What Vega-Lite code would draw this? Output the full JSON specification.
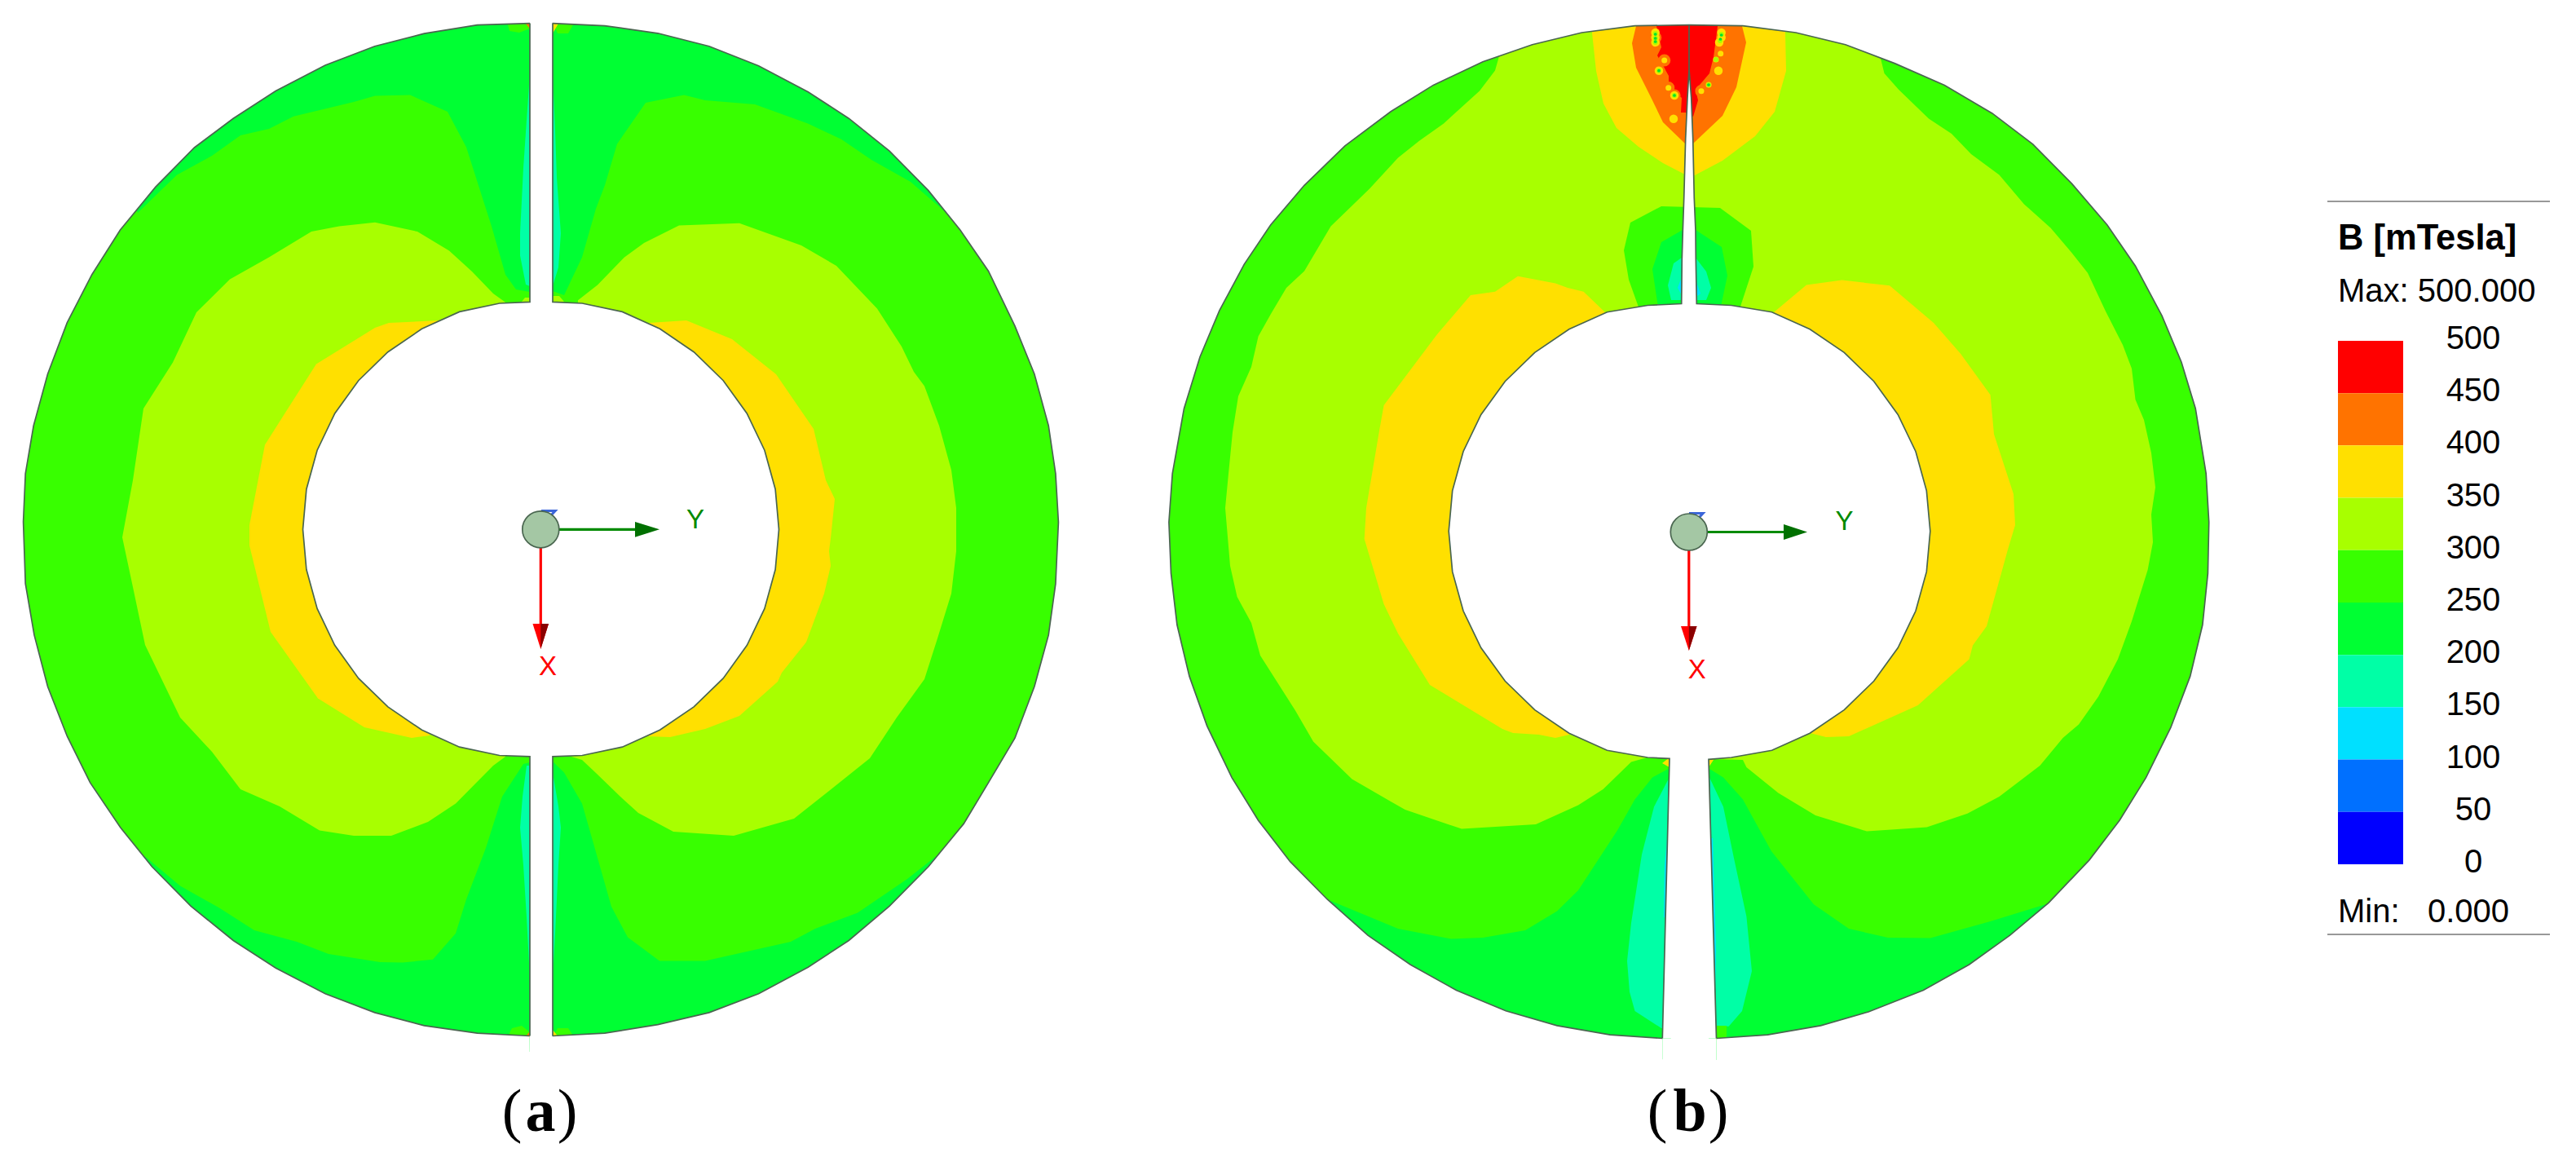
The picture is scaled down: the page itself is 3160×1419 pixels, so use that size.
{"$schema":"https://vega.github.io/schema/vega-lite/v6.json","width":3160,"height":1419,"padding":0,"autosize":{"type":"none"},"background":"white","config":{"view":{"stroke":null}},
"datasets":{
"arcs":[
{"i":"L1","x":650,"y":28.6},{"i":"L1","x":585.5,"y":30.7},{"i":"L1","x":520.4,"y":41.2},{"i":"L1","x":459.7,"y":56.8},{"i":"L1","x":399,"y":80},{"i":"L1","x":338.3,"y":111.5},{"i":"L1","x":286.2,"y":145.2},{"i":"L1","x":238.5,"y":181},{"i":"L1","x":190.8,"y":229.4},{"i":"L1","x":147.5,"y":282},{"i":"L1","x":112.8,"y":336.7},{"i":"L1","x":82.4,"y":395.7},{"i":"L1","x":58.5,"y":458.8},{"i":"L1","x":41.2,"y":522},{"i":"L1","x":31.2,"y":580.8},{"i":"L1","x":28.6,"y":640},{"i":"L1","x":31.2,"y":715.8},{"i":"L1","x":42,"y":778.9},{"i":"L1","x":58.5,"y":842},{"i":"L1","x":82.4,"y":903},{"i":"L1","x":110.6,"y":959.9},{"i":"L1","x":147.5,"y":1014.6},{"i":"L1","x":186.5,"y":1063},{"i":"L1","x":234.2,"y":1111.4},{"i":"L1","x":286.2,"y":1153.5},{"i":"L1","x":338.3,"y":1187.2},{"i":"L1","x":399,"y":1218.7},{"i":"L1","x":459.7,"y":1241.9},{"i":"L1","x":520.4,"y":1257.9},{"i":"L1","x":585.5,"y":1267.1},{"i":"L1","x":649.7,"y":1270.5},{"i":"L1","c":1,"x":650,"y":1330},{"i":"L1","c":1,"x":0,"y":1330},{"i":"L1","c":1,"x":0,"y":0},{"i":"L1","c":1,"x":650,"y":0},
{"i":"L2","x":677.7,"y":28.6},{"i":"L2","x":741.9,"y":31.6},{"i":"L2","x":807,"y":40.8},{"i":"L2","x":869.9,"y":56.8},{"i":"L2","x":930.6,"y":80.8},{"i":"L2","x":991.3,"y":112.8},{"i":"L2","x":1041.2,"y":145.2},{"i":"L2","x":1091,"y":185.2},{"i":"L2","x":1138.8,"y":233.6},{"i":"L2","x":1177.8,"y":282},{"i":"L2","x":1212.5,"y":332.5},{"i":"L2","x":1245,"y":399.9},{"i":"L2","x":1268.9,"y":458.8},{"i":"L2","x":1286.2,"y":522},{"i":"L2","x":1294.9,"y":580.8},{"i":"L2","x":1298.4,"y":640.6},{"i":"L2","x":1294.9,"y":715.8},{"i":"L2","x":1286.2,"y":778.9},{"i":"L2","x":1268.9,"y":842},{"i":"L2","x":1245,"y":905.2},{"i":"L2","x":1212.5,"y":959.9},{"i":"L2","x":1182.1,"y":1010.4},{"i":"L2","x":1138.8,"y":1063},{"i":"L2","x":1091,"y":1111.4},{"i":"L2","x":1041.2,"y":1153.5},{"i":"L2","x":991.3,"y":1186.3},{"i":"L2","x":930.6,"y":1218.7},{"i":"L2","x":869.9,"y":1241.9},{"i":"L2","x":807,"y":1256.6},{"i":"L2","x":741.9,"y":1267.1},{"i":"L2","x":677.7,"y":1270.5},{"i":"L2","c":1,"x":678,"y":1330},{"i":"L2","c":1,"x":1366,"y":1330},{"i":"L2","c":1,"x":1366,"y":0},{"i":"L2","c":1,"x":678,"y":0},
{"i":"R1","x":2072,"y":30.7},{"i":"R1","x":2005.5,"y":31.6},{"i":"R1","x":1940.4,"y":40},{"i":"R1","x":1879.7,"y":54.7},{"i":"R1","x":1819,"y":75.8},{"i":"R1","x":1758.3,"y":104.4},{"i":"R1","x":1706.2,"y":136.8},{"i":"R1","x":1649.9,"y":178.9},{"i":"R1","x":1600,"y":227.3},{"i":"R1","x":1558.8,"y":275.7},{"i":"R1","x":1526.3,"y":324.1},{"i":"R1","x":1495.9,"y":380.9},{"i":"R1","x":1472,"y":437.7},{"i":"R1","x":1452.5,"y":500.9},{"i":"R1","x":1438.2,"y":580.8},{"i":"R1","x":1433.9,"y":640.6},{"i":"R1","x":1436.5,"y":703.1},{"i":"R1","x":1443.9,"y":766.3},{"i":"R1","x":1459,"y":829.4},{"i":"R1","x":1480.7,"y":890.4},{"i":"R1","x":1511.1,"y":953.6},{"i":"R1","x":1543.6,"y":1006.2},{"i":"R1","x":1582.6,"y":1056.7},{"i":"R1","x":1628.2,"y":1103},{"i":"R1","x":1678,"y":1147.2},{"i":"R1","x":1730,"y":1183},{"i":"R1","x":1786.5,"y":1214.5},{"i":"R1","x":1847.2,"y":1239.8},{"i":"R1","x":1910,"y":1257.9},{"i":"R1","x":1975.1,"y":1269.2},{"i":"R1","x":2039.3,"y":1273.5},{"i":"R1","c":1,"x":2039.3,"y":1330},{"i":"R1","c":1,"x":1367,"y":1330},{"i":"R1","c":1,"x":1367,"y":0},{"i":"R1","c":1,"x":2072,"y":0},
{"i":"R2","x":2072,"y":30.7},{"i":"R2","x":2138,"y":31.6},{"i":"R2","x":2203,"y":40},{"i":"R2","x":2263.8,"y":54.7},{"i":"R2","x":2324.6,"y":77.9},{"i":"R2","x":2385.3,"y":104.4},{"i":"R2","x":2443.8,"y":138.9},{"i":"R2","x":2493.7,"y":176.8},{"i":"R2","x":2541.4,"y":225.2},{"i":"R2","x":2584.8,"y":275.7},{"i":"R2","x":2619.5,"y":326.2},{"i":"R2","x":2652,"y":387.2},{"i":"R2","x":2675.9,"y":444},{"i":"R2","x":2693.2,"y":500.9},{"i":"R2","x":2706.2,"y":580.8},{"i":"R2","x":2709.7,"y":640.6},{"i":"R2","x":2708.4,"y":703.1},{"i":"R2","x":2701.9,"y":766.3},{"i":"R2","x":2686.7,"y":829.4},{"i":"R2","x":2662.8,"y":892.5},{"i":"R2","x":2632.5,"y":953.6},{"i":"R2","x":2600,"y":1006.2},{"i":"R2","x":2563.1,"y":1054.6},{"i":"R2","x":2513.2,"y":1107.2},{"i":"R2","x":2465.5,"y":1147.2},{"i":"R2","x":2415.6,"y":1183},{"i":"R2","x":2359.3,"y":1214.5},{"i":"R2","x":2292,"y":1241},{"i":"R2","x":2233.5,"y":1257.9},{"i":"R2","x":2168.4,"y":1269.2},{"i":"R2","x":2105.5,"y":1273.5},{"i":"R2","c":1,"x":2105.5,"y":1330},{"i":"R2","c":1,"x":2790,"y":1330},{"i":"R2","c":1,"x":2790,"y":0},{"i":"R2","c":1,"x":2072,"y":0}
],
"regions":[
{"i":"a1","b":"300","x":620,"y":928},{"i":"a1","b":"300","x":605,"y":939},{"i":"a1","b":"300","x":559,"y":985.5},{"i":"a1","b":"300","x":525,"y":1008},{"i":"a1","b":"300","x":480,"y":1025},{"i":"a1","b":"300","x":434,"y":1025},{"i":"a1","b":"300","x":392,"y":1018.5},{"i":"a1","b":"300","x":343,"y":989},{"i":"a1","b":"300","x":295,"y":968},{"i":"a1","b":"300","x":260,"y":922},{"i":"a1","b":"300","x":221,"y":880},{"i":"a1","b":"300","x":178,"y":791},{"i":"a1","b":"300","x":163,"y":720},{"i":"a1","b":"300","x":150,"y":659},{"i":"a1","b":"300","x":163,"y":589},{"i":"a1","b":"300","x":176,"y":501},{"i":"a1","b":"300","x":212,"y":444.5},{"i":"a1","b":"300","x":241,"y":383},{"i":"a1","b":"300","x":282,"y":342.6},{"i":"a1","b":"300","x":330,"y":315.4},{"i":"a1","b":"300","x":382,"y":284},{"i":"a1","b":"300","x":416,"y":277.6},{"i":"a1","b":"300","x":460,"y":272.7},{"i":"a1","b":"300","x":512,"y":284},{"i":"a1","b":"300","x":551,"y":307.6},{"i":"a1","b":"300","x":579,"y":333},{"i":"a1","b":"300","x":605,"y":360},{"i":"a1","b":"300","x":620,"y":370.7},
{"i":"a2","b":"300","x":709,"y":368.3},{"i":"a2","b":"300","x":733,"y":349.4},{"i":"a2","b":"300","x":766,"y":315.4},{"i":"a2","b":"300","x":790,"y":298},{"i":"a2","b":"300","x":833,"y":276.6},{"i":"a2","b":"300","x":907,"y":273.7},{"i":"a2","b":"300","x":983,"y":300.9},{"i":"a2","b":"300","x":1026,"y":326},{"i":"a2","b":"300","x":1076,"y":378.5},{"i":"a2","b":"300","x":1106,"y":425},{"i":"a2","b":"300","x":1121,"y":456},{"i":"a2","b":"300","x":1134,"y":473.6},{"i":"a2","b":"300","x":1152,"y":522},{"i":"a2","b":"300","x":1167,"y":576.5},{"i":"a2","b":"300","x":1173,"y":623},{"i":"a2","b":"300","x":1173,"y":676},{"i":"a2","b":"300","x":1167,"y":728},{"i":"a2","b":"300","x":1150,"y":783},{"i":"a2","b":"300","x":1134,"y":833},{"i":"a2","b":"300","x":1100,"y":880},{"i":"a2","b":"300","x":1067,"y":930},{"i":"a2","b":"300","x":1017,"y":970},{"i":"a2","b":"300","x":974,"y":1004},{"i":"a2","b":"300","x":900,"y":1025},{"i":"a2","b":"300","x":826,"y":1020},{"i":"a2","b":"300","x":783,"y":997},{"i":"a2","b":"300","x":761,"y":977},{"i":"a2","b":"300","x":731,"y":948},{"i":"a2","b":"300","x":714,"y":932},{"i":"a2","b":"300","x":701,"y":928},
{"i":"a3","b":"350","x":538,"y":393},{"i":"a3","b":"350","x":477,"y":396},{"i":"a3","b":"350","x":460,"y":402},{"i":"a3","b":"350","x":388,"y":446.4},{"i":"a3","b":"350","x":325,"y":545.4},{"i":"a3","b":"350","x":306,"y":644},{"i":"a3","b":"350","x":306,"y":669},{"i":"a3","b":"350","x":332,"y":775},{"i":"a3","b":"350","x":390,"y":856.4},{"i":"a3","b":"350","x":447,"y":892},{"i":"a3","b":"350","x":505,"y":905},{"i":"a3","b":"350","x":527,"y":902},
{"i":"a4","b":"350","x":796,"y":396},{"i":"a4","b":"350","x":842,"y":393},{"i":"a4","b":"350","x":898,"y":416},{"i":"a4","b":"350","x":952,"y":459},{"i":"a4","b":"350","x":998,"y":526},{"i":"a4","b":"350","x":1013,"y":589},{"i":"a4","b":"350","x":1024,"y":612},{"i":"a4","b":"350","x":1019,"y":660},{"i":"a4","b":"350","x":1017,"y":676},{"i":"a4","b":"350","x":1019,"y":694},{"i":"a4","b":"350","x":1011,"y":728},{"i":"a4","b":"350","x":989,"y":787.5},{"i":"a4","b":"350","x":959,"y":825},{"i":"a4","b":"350","x":954,"y":836},{"i":"a4","b":"350","x":907,"y":878},{"i":"a4","b":"350","x":865,"y":894},{"i":"a4","b":"350","x":822,"y":904},{"i":"a4","b":"350","x":794,"y":903},
{"i":"a5","b":"200","x":169,"y":261},{"i":"a5","b":"200","x":217,"y":214.5},{"i":"a5","b":"200","x":260,"y":191},{"i":"a5","b":"200","x":295,"y":166},{"i":"a5","b":"200","x":330,"y":158},{"i":"a5","b":"200","x":360,"y":142.7},{"i":"a5","b":"200","x":434,"y":125},{"i":"a5","b":"200","x":460,"y":117.4},{"i":"a5","b":"200","x":503,"y":116.5},{"i":"a5","b":"200","x":549,"y":137},{"i":"a5","b":"200","x":572,"y":180.5},{"i":"a5","b":"200","x":603,"y":277.6},{"i":"a5","b":"200","x":620,"y":336.8},{"i":"a5","b":"200","x":633,"y":355},{"i":"a5","b":"200","x":650,"y":358},{"i":"a5","b":"200","x":650,"y":5},{"i":"a5","b":"200","x":500,"y":15},{"i":"a5","b":"200","x":360,"y":60},{"i":"a5","b":"200","x":240,"y":155},{"i":"a5","b":"200","x":160,"y":240},
{"i":"a6","b":"200","x":1163,"y":263},{"i":"a6","b":"200","x":1117,"y":223},{"i":"a6","b":"200","x":1069,"y":196},{"i":"a6","b":"200","x":1032,"y":170.8},{"i":"a6","b":"200","x":991,"y":151.4},{"i":"a6","b":"200","x":926,"y":128},{"i":"a6","b":"200","x":865,"y":123},{"i":"a6","b":"200","x":839,"y":116.5},{"i":"a6","b":"200","x":792,"y":126},{"i":"a6","b":"200","x":757,"y":176.6},{"i":"a6","b":"200","x":742,"y":227},{"i":"a6","b":"200","x":731,"y":256},{"i":"a6","b":"200","x":714,"y":315.4},{"i":"a6","b":"200","x":692,"y":362},{"i":"a6","b":"200","x":678,"y":357},{"i":"a6","b":"200","x":678,"y":5},{"i":"a6","b":"200","x":830,"y":15},{"i":"a6","b":"200","x":970,"y":60},{"i":"a6","b":"200","x":1085,"y":155},{"i":"a6","b":"200","x":1170,"y":240},
{"i":"a7","b":"200","x":178,"y":1050.5},{"i":"a7","b":"200","x":221,"y":1086.4},{"i":"a7","b":"200","x":269,"y":1113.6},{"i":"a7","b":"200","x":312,"y":1141},{"i":"a7","b":"200","x":364,"y":1155},{"i":"a7","b":"200","x":403,"y":1170},{"i":"a7","b":"200","x":466,"y":1180},{"i":"a7","b":"200","x":494,"y":1180.6},{"i":"a7","b":"200","x":531,"y":1176.7},{"i":"a7","b":"200","x":559,"y":1144.7},{"i":"a7","b":"200","x":572,"y":1103},{"i":"a7","b":"200","x":596,"y":1040},{"i":"a7","b":"200","x":616,"y":977},{"i":"a7","b":"200","x":642,"y":937},{"i":"a7","b":"200","x":650,"y":935},{"i":"a7","b":"200","x":650,"y":1290},{"i":"a7","b":"200","x":500,"y":1280},{"i":"a7","b":"200","x":360,"y":1232},{"i":"a7","b":"200","x":240,"y":1140},{"i":"a7","b":"200","x":160,"y":1052},
{"i":"a8","b":"200","x":678,"y":934},{"i":"a8","b":"200","x":692,"y":947.6},{"i":"a8","b":"200","x":714,"y":985.5},{"i":"a8","b":"200","x":727,"y":1031},{"i":"a8","b":"200","x":750,"y":1112},{"i":"a8","b":"200","x":770,"y":1149.5},{"i":"a8","b":"200","x":809,"y":1178.6},{"i":"a8","b":"200","x":865,"y":1178.6},{"i":"a8","b":"200","x":970,"y":1155},{"i":"a8","b":"200","x":1000,"y":1139},{"i":"a8","b":"200","x":1052,"y":1119.4},{"i":"a8","b":"200","x":1113,"y":1078},{"i":"a8","b":"200","x":1156,"y":1044},{"i":"a8","b":"200","x":1170,"y":1062},{"i":"a8","b":"200","x":1060,"y":1154},{"i":"a8","b":"200","x":950,"y":1232},{"i":"a8","b":"200","x":800,"y":1285},{"i":"a8","b":"200","x":678,"y":1290},
{"i":"a9","b":"150","x":650,"y":90},{"i":"a9","b":"150","x":646,"y":147.5},{"i":"a9","b":"150","x":642,"y":206},{"i":"a9","b":"150","x":638,"y":286},{"i":"a9","b":"150","x":638,"y":313.5},{"i":"a9","b":"150","x":645,"y":349},{"i":"a9","b":"150","x":650,"y":351},
{"i":"a10","b":"150","x":678,"y":90},{"i":"a10","b":"150","x":681,"y":160},{"i":"a10","b":"150","x":683,"y":218},{"i":"a10","b":"150","x":688,"y":286},{"i":"a10","b":"150","x":685,"y":328},{"i":"a10","b":"150","x":678,"y":351},
{"i":"a11","b":"150","x":646,"y":939},{"i":"a11","b":"150","x":641,"y":977},{"i":"a11","b":"150","x":638,"y":1015},{"i":"a11","b":"150","x":642,"y":1061},{"i":"a11","b":"150","x":646,"y":1125},{"i":"a11","b":"150","x":650,"y":1200},{"i":"a11","b":"150","x":650,"y":939},
{"i":"a12","b":"150","x":678,"y":947.6},{"i":"a12","b":"150","x":685,"y":989},{"i":"a12","b":"150","x":688,"y":1015},{"i":"a12","b":"150","x":685,"y":1061},{"i":"a12","b":"150","x":681,"y":1145},{"i":"a12","b":"150","x":678,"y":1200},
{"i":"a13","b":"250","x":622,"y":27},{"i":"a13","b":"250","x":625,"y":38},{"i":"a13","b":"250","x":637,"y":40},{"i":"a13","b":"250","x":650,"y":35},{"i":"a13","b":"250","x":650,"y":27},
{"i":"a14","b":"250","x":678,"y":27},{"i":"a14","b":"250","x":684,"y":41},{"i":"a14","b":"250","x":697,"y":41},{"i":"a14","b":"250","x":705,"y":27},
{"i":"a15","b":"250","x":622,"y":1273},{"i":"a15","b":"250","x":628,"y":1261},{"i":"a15","b":"250","x":640,"y":1258},{"i":"a15","b":"250","x":650,"y":1266},{"i":"a15","b":"250","x":650,"y":1273},
{"i":"a16","b":"250","x":678,"y":1273},{"i":"a16","b":"250","x":684,"y":1261},{"i":"a16","b":"250","x":697,"y":1261},{"i":"a16","b":"250","x":705,"y":1273},
{"i":"a17","b":"300","x":640,"y":370},{"i":"a17","b":"300","x":644,"y":365},{"i":"a17","b":"300","x":650,"y":365},{"i":"a17","b":"300","x":650,"y":370},
{"i":"a18","b":"300","x":678,"y":370},{"i":"a18","b":"300","x":678,"y":363},{"i":"a18","b":"300","x":686,"y":363},{"i":"a18","b":"300","x":692,"y":370},
{"i":"a19","b":"350","x":678,"y":27},{"i":"a19","b":"350","x":686,"y":27},{"i":"a19","b":"350","x":678,"y":41},
{"i":"a20","b":"350","x":678,"y":1273},{"i":"a20","b":"350","x":686,"y":1273},{"i":"a20","b":"350","x":678,"y":1263},
{"i":"a21","b":"400","x":650,"y":27},{"i":"a21","b":"400","x":643,"y":27},{"i":"a21","b":"400","x":650,"y":35},
{"i":"a22","b":"400","x":650,"y":1273},{"i":"a22","b":"400","x":643,"y":1273},{"i":"a22","b":"400","x":650,"y":1265},
{"i":"a23","b":"void","x":650,"y":0},{"i":"a23","b":"void","x":678,"y":0},{"i":"a23","b":"void","x":678,"y":1330},{"i":"a23","b":"void","x":650,"y":1330},
{"i":"b1","b":"300","x":2020.7,"y":929},{"i":"b1","b":"300","x":2001,"y":934.6},{"i":"b1","b":"300","x":1966.5,"y":968},{"i":"b1","b":"300","x":1936,"y":987.4},{"i":"b1","b":"300","x":1884,"y":1011},{"i":"b1","b":"300","x":1793,"y":1016.6},{"i":"b1","b":"300","x":1723.6,"y":993},{"i":"b1","b":"300","x":1706,"y":983},{"i":"b1","b":"300","x":1658.5,"y":955.4},{"i":"b1","b":"300","x":1611,"y":909.4},{"i":"b1","b":"300","x":1589,"y":871.5},{"i":"b1","b":"300","x":1546,"y":804},{"i":"b1","b":"300","x":1535,"y":764},{"i":"b1","b":"300","x":1517.6,"y":732},{"i":"b1","b":"300","x":1509,"y":694},{"i":"b1","b":"300","x":1503,"y":623},{"i":"b1","b":"300","x":1507,"y":581},{"i":"b1","b":"300","x":1512,"y":530},{"i":"b1","b":"300","x":1519,"y":486},{"i":"b1","b":"300","x":1535,"y":450},{"i":"b1","b":"300","x":1543.6,"y":412.5},{"i":"b1","b":"300","x":1559,"y":385},{"i":"b1","b":"300","x":1578,"y":353},{"i":"b1","b":"300","x":1600,"y":332.5},{"i":"b1","b":"300","x":1632.5,"y":277.6},{"i":"b1","b":"300","x":1680,"y":231.5},{"i":"b1","b":"300","x":1715,"y":193.6},{"i":"b1","b":"300","x":1741,"y":172.7},{"i":"b1","b":"300","x":1771,"y":151.4},{"i":"b1","b":"300","x":1815,"y":111.6},{"i":"b1","b":"300","x":1834,"y":86.4},{"i":"b1","b":"300","x":1838.5,"y":70.8},{"i":"b1","b":"300","x":1835,"y":40},{"i":"b1","b":"300","x":1960,"y":25},{"i":"b1","b":"300","x":2072,"y":15},{"i":"b1","b":"300","x":2190,"y":25},{"i":"b1","b":"300","x":2300,"y":45},{"i":"b1","b":"300","x":2307,"y":71.8},{"i":"b1","b":"300","x":2311.5,"y":90},{"i":"b1","b":"300","x":2329,"y":109.7},{"i":"b1","b":"300","x":2366,"y":145.6},{"i":"b1","b":"300","x":2394,"y":164},{"i":"b1","b":"300","x":2418,"y":189},{"i":"b1","b":"300","x":2452.5,"y":214.5},{"i":"b1","b":"300","x":2483,"y":250.4},{"i":"b1","b":"300","x":2515.5,"y":279.5},{"i":"b1","b":"300","x":2541,"y":309.6},{"i":"b1","b":"300","x":2561,"y":334.8},{"i":"b1","b":"300","x":2582.6,"y":381},{"i":"b1","b":"300","x":2604,"y":423},{"i":"b1","b":"300","x":2615,"y":452},{"i":"b1","b":"300","x":2619.5,"y":490},{"i":"b1","b":"300","x":2630,"y":515},{"i":"b1","b":"300","x":2639,"y":555.6},{"i":"b1","b":"300","x":2644,"y":597.8},{"i":"b1","b":"300","x":2639,"y":631},{"i":"b1","b":"300","x":2641,"y":665},{"i":"b1","b":"300","x":2634.6,"y":699},{"i":"b1","b":"300","x":2615,"y":762},{"i":"b1","b":"300","x":2598,"y":808.4},{"i":"b1","b":"300","x":2574,"y":854.5},{"i":"b1","b":"300","x":2550,"y":888.4},{"i":"b1","b":"300","x":2530.6,"y":905},{"i":"b1","b":"300","x":2502.4,"y":939},{"i":"b1","b":"300","x":2452.5,"y":977},{"i":"b1","b":"300","x":2413.5,"y":997.7},{"i":"b1","b":"300","x":2363.6,"y":1014.6},{"i":"b1","b":"300","x":2290,"y":1019.5},{"i":"b1","b":"300","x":2227,"y":1000},{"i":"b1","b":"300","x":2181.4,"y":972.5},{"i":"b1","b":"300","x":2142.4,"y":941},{"i":"b1","b":"300","x":2138,"y":932},
{"i":"b2","b":"350","x":1971,"y":385},{"i":"b2","b":"350","x":1942.6,"y":357.7},{"i":"b2","b":"350","x":1923,"y":353},{"i":"b2","b":"350","x":1908,"y":347.4},{"i":"b2","b":"350","x":1862,"y":338.7},{"i":"b2","b":"350","x":1834,"y":357.7},{"i":"b2","b":"350","x":1804,"y":362},{"i":"b2","b":"350","x":1762.6,"y":410.5},{"i":"b2","b":"350","x":1697.6,"y":497},{"i":"b2","b":"350","x":1692.4,"y":526},{"i":"b2","b":"350","x":1676,"y":623},{"i":"b2","b":"350","x":1673.7,"y":661},{"i":"b2","b":"350","x":1697.6,"y":741},{"i":"b2","b":"350","x":1715,"y":777},{"i":"b2","b":"350","x":1754,"y":840},{"i":"b2","b":"350","x":1778,"y":854.5},{"i":"b2","b":"350","x":1843,"y":894},{"i":"b2","b":"350","x":1856,"y":899},{"i":"b2","b":"350","x":1888,"y":901},{"i":"b2","b":"350","x":1908,"y":905},{"i":"b2","b":"350","x":1925,"y":901},
{"i":"b3","b":"350","x":2173.6,"y":385},{"i":"b3","b":"350","x":2216,"y":349.4},{"i":"b3","b":"350","x":2259.5,"y":343.6},{"i":"b3","b":"350","x":2318,"y":350.3},{"i":"b3","b":"350","x":2372,"y":396},{"i":"b3","b":"350","x":2405,"y":433.8},{"i":"b3","b":"350","x":2441.6,"y":484.3},{"i":"b3","b":"350","x":2446,"y":532.4},{"i":"b3","b":"350","x":2470,"y":606},{"i":"b3","b":"350","x":2472,"y":644},{"i":"b3","b":"350","x":2463,"y":674},{"i":"b3","b":"350","x":2437,"y":768},{"i":"b3","b":"350","x":2420,"y":791.4},{"i":"b3","b":"350","x":2415.6,"y":808.4},{"i":"b3","b":"350","x":2352.7,"y":865},{"i":"b3","b":"350","x":2268,"y":903},{"i":"b3","b":"350","x":2240,"y":904},{"i":"b3","b":"350","x":2220.5,"y":899},
{"i":"b4","b":"350","x":1952,"y":15},{"i":"b4","b":"350","x":1953,"y":40},{"i":"b4","b":"350","x":1958,"y":87},{"i":"b4","b":"350","x":1967,"y":127},{"i":"b4","b":"350","x":1983,"y":157},{"i":"b4","b":"350","x":2010,"y":180},{"i":"b4","b":"350","x":2040,"y":200},{"i":"b4","b":"350","x":2067,"y":214},{"i":"b4","b":"350","x":2077,"y":216},{"i":"b4","b":"350","x":2113,"y":197},{"i":"b4","b":"350","x":2153,"y":167},{"i":"b4","b":"350","x":2177,"y":137},{"i":"b4","b":"350","x":2191,"y":87},{"i":"b4","b":"350","x":2190,"y":40},{"i":"b4","b":"350","x":2190,"y":15},
{"i":"b5","b":"400","x":2007,"y":15},{"i":"b5","b":"400","x":2007,"y":32},{"i":"b5","b":"400","x":2002,"y":53},{"i":"b5","b":"400","x":2007,"y":83},{"i":"b5","b":"400","x":2027,"y":123},{"i":"b5","b":"400","x":2040,"y":150},{"i":"b5","b":"400","x":2067,"y":176},{"i":"b5","b":"400","x":2077,"y":176},{"i":"b5","b":"400","x":2113,"y":142},{"i":"b5","b":"400","x":2130,"y":107},{"i":"b5","b":"400","x":2142,"y":52},{"i":"b5","b":"400","x":2137,"y":32},{"i":"b5","b":"400","x":2137,"y":15},
{"i":"b6","b":"450","x":2032,"y":15},{"i":"b6","b":"450","x":2032,"y":32},{"i":"b6","b":"450","x":2038,"y":58},{"i":"b6","b":"450","x":2033,"y":68},{"i":"b6","b":"450","x":2047,"y":93},{"i":"b6","b":"450","x":2047,"y":107},{"i":"b6","b":"450","x":2063,"y":120},{"i":"b6","b":"450","x":2062,"y":138},{"i":"b6","b":"450","x":2068,"y":138},{"i":"b6","b":"450","x":2077,"y":143},{"i":"b6","b":"450","x":2083,"y":123},{"i":"b6","b":"450","x":2080,"y":110},{"i":"b6","b":"450","x":2097,"y":90},{"i":"b6","b":"450","x":2102,"y":70},{"i":"b6","b":"450","x":2107,"y":32},{"i":"b6","b":"450","x":2107,"y":15},
{"i":"b7","b":"250","x":2013,"y":385},{"i":"b7","b":"250","x":1998,"y":343},{"i":"b7","b":"250","x":1992,"y":307},{"i":"b7","b":"250","x":2000,"y":273},{"i":"b7","b":"250","x":2038,"y":253},{"i":"b7","b":"250","x":2110,"y":255},{"i":"b7","b":"250","x":2148,"y":283},{"i":"b7","b":"250","x":2151,"y":327},{"i":"b7","b":"250","x":2132,"y":385},
{"i":"b8","b":"200","x":2036,"y":390},{"i":"b8","b":"200","x":2027,"y":330},{"i":"b8","b":"200","x":2038,"y":297},{"i":"b8","b":"200","x":2064,"y":282},{"i":"b8","b":"200","x":2080,"y":282},{"i":"b8","b":"200","x":2112,"y":303},{"i":"b8","b":"200","x":2119,"y":338},{"i":"b8","b":"200","x":2108,"y":390},
{"i":"b9","b":"150","x":2050,"y":368},{"i":"b9","b":"150","x":2046,"y":350},{"i":"b9","b":"150","x":2053,"y":323},{"i":"b9","b":"150","x":2063,"y":316},{"i":"b9","b":"150","x":2080,"y":316},{"i":"b9","b":"150","x":2093,"y":333},{"i":"b9","b":"150","x":2099,"y":353},{"i":"b9","b":"150","x":2093,"y":368},
{"i":"b10","b":"100","x":2058,"y":353},{"i":"b10","b":"100","x":2063,"y":340},{"i":"b10","b":"100","x":2080,"y":343},{"i":"b10","b":"100","x":2086,"y":360},{"i":"b10","b":"100","x":2082,"y":363},{"i":"b10","b":"100","x":2063,"y":362},
{"i":"b11","b":"200","x":1628,"y":1103},{"i":"b11","b":"200","x":1715,"y":1139},{"i":"b11","b":"200","x":1780,"y":1151.5},{"i":"b11","b":"200","x":1819,"y":1150},{"i":"b11","b":"200","x":1871,"y":1141},{"i":"b11","b":"200","x":1910,"y":1117.5},{"i":"b11","b":"200","x":1936,"y":1092},{"i":"b11","b":"200","x":1984,"y":1018.5},{"i":"b11","b":"200","x":2005.5,"y":980.6},{"i":"b11","b":"200","x":2027,"y":953.5},{"i":"b11","b":"200","x":2046.7,"y":943},{"i":"b11","b":"200","x":2050,"y":1300},{"i":"b11","b":"200","x":1900,"y":1290},{"i":"b11","b":"200","x":1760,"y":1235},{"i":"b11","b":"200","x":1610,"y":1110},
{"i":"b12","b":"200","x":2097,"y":943},{"i":"b12","b":"200","x":2114,"y":953.5},{"i":"b12","b":"200","x":2138,"y":980.6},{"i":"b12","b":"200","x":2173,"y":1044},{"i":"b12","b":"200","x":2225,"y":1109.3},{"i":"b12","b":"200","x":2268,"y":1139},{"i":"b12","b":"200","x":2316,"y":1150},{"i":"b12","b":"200","x":2368,"y":1150.5},{"i":"b12","b":"200","x":2441.6,"y":1130},{"i":"b12","b":"200","x":2509,"y":1109.3},{"i":"b12","b":"200","x":2530,"y":1135},{"i":"b12","b":"200","x":2400,"y":1235},{"i":"b12","b":"200","x":2250,"y":1300},{"i":"b12","b":"200","x":2096,"y":1300},
{"i":"b13","b":"150","x":2046.7,"y":955.4},{"i":"b13","b":"150","x":2029,"y":989.4},{"i":"b13","b":"150","x":2014,"y":1048},{"i":"b13","b":"150","x":2001,"y":1132},{"i":"b13","b":"150","x":1996,"y":1178.6},{"i":"b13","b":"150","x":1999,"y":1216.5},{"i":"b13","b":"150","x":2005.5,"y":1240},{"i":"b13","b":"150","x":2038,"y":1261},{"i":"b13","b":"150","x":2050,"y":1261},
{"i":"b14","b":"150","x":2097,"y":953.5},{"i":"b14","b":"150","x":2114,"y":989.4},{"i":"b14","b":"150","x":2127,"y":1052.5},{"i":"b14","b":"150","x":2142.4,"y":1124},{"i":"b14","b":"150","x":2149,"y":1191},{"i":"b14","b":"150","x":2137,"y":1240},{"i":"b14","b":"150","x":2120.7,"y":1258.7},{"i":"b14","b":"150","x":2100,"y":1258},
{"i":"b15","b":"100","x":2045,"y":1028},{"i":"b15","b":"100","x":2042,"y":1062},{"i":"b15","b":"100","x":2041,"y":1125},{"i":"b15","b":"100","x":2046,"y":1125},
{"i":"b16","b":"100","x":2098,"y":1028},{"i":"b16","b":"100","x":2101,"y":1028},{"i":"b16","b":"100","x":2105,"y":1164},{"i":"b16","b":"100","x":2104,"y":1222},{"i":"b16","b":"100","x":2102,"y":1222},
{"i":"b17","b":"250","x":2103,"y":1258},{"i":"b17","b":"250","x":2118,"y":1258},{"i":"b17","b":"250","x":2118,"y":1276},{"i":"b17","b":"250","x":2103,"y":1276},
{"i":"b18","b":"350","x":2039,"y":936},{"i":"b18","b":"350","x":2048,"y":929},{"i":"b18","b":"350","x":2048,"y":941},
{"i":"b19","b":"350","x":2096,"y":929},{"i":"b19","b":"350","x":2104,"y":929},{"i":"b19","b":"350","x":2096,"y":941},
{"i":"b20","b":"void","x":2039.3,"y":1273.5},{"i":"b20","b":"void","x":2105.5,"y":1273.5},{"i":"b20","b":"void","x":2105.5,"y":1330},{"i":"b20","b":"void","x":2039.3,"y":1330}
],
"orangeDots":[{"x":2041.7,"y":74},{"x":2096,"y":104},{"x":2087,"y":111.7},{"x":2054,"y":117},{"x":2035,"y":86.7},{"x":2030.7,"y":46},{"x":2046.7,"y":107.7}],
"yellowDots":[{"x":2030.7,"y":40},{"x":2030.7,"y":46},{"x":2030.7,"y":52},{"x":2035,"y":86.7},{"x":2054,"y":117},{"x":2053,"y":145.7},{"x":2111.7,"y":40},{"x":2111.7,"y":46},{"x":2109,"y":52},{"x":2108,"y":86.7}],
"yellowSmall":[{"x":2041.7,"y":74},{"x":2046.7,"y":107.7},{"x":2105,"y":73},{"x":2110.7,"y":65.7},{"x":2096,"y":104},{"x":2087,"y":111.7}],
"limeDots":[{"x":2030.7,"y":41},{"x":2030.7,"y":47},{"x":2030.7,"y":52},{"x":2035,"y":86.7},{"x":2054,"y":117},{"x":2111.7,"y":42},{"x":2110,"y":50},{"x":2105,"y":73},{"x":2096,"y":104}],
"greenDots":[{"x":2030.7,"y":42},{"x":2030.7,"y":47},{"x":2030.7,"y":51},{"x":2035,"y":86.7},{"x":2054,"y":117},{"x":2111.7,"y":43},{"x":2110.5,"y":48},{"x":2096,"y":104}],
"cavities":[
{"i":"c1","x":650,"y":28.6},{"i":"c1","x":650,"y":370.4},{"i":"c1","x":612.8,"y":372},{"i":"c1","x":563.6,"y":382.4},{"i":"c1","x":517.5,"y":403.3},{"i":"c1","x":475.8,"y":431.7},{"i":"c1","x":439.8,"y":466.7},{"i":"c1","x":410.6,"y":507.3},{"i":"c1","x":389.1,"y":552.2},{"i":"c1","x":375.9,"y":600},{"i":"c1","x":371.5,"y":649.3},{"i":"c1","x":375.9,"y":698.6},{"i":"c1","x":389.1,"y":746.4},{"i":"c1","x":410.6,"y":791.3},{"i":"c1","x":439.8,"y":831.9},{"i":"c1","x":475.8,"y":866.9},{"i":"c1","x":517.5,"y":895.3},{"i":"c1","x":563.6,"y":916.2},{"i":"c1","x":612.8,"y":926.5},{"i":"c1","x":650,"y":927.9},{"i":"c1","x":650,"y":1270.5},
{"i":"c2","x":678,"y":28.6},{"i":"c2","x":678,"y":370.4},{"i":"c2","x":714.2,"y":372},{"i":"c2","x":763.4,"y":382.4},{"i":"c2","x":809.5,"y":403.3},{"i":"c2","x":851.2,"y":431.7},{"i":"c2","x":887.2,"y":466.7},{"i":"c2","x":916.4,"y":507.3},{"i":"c2","x":937.9,"y":552.2},{"i":"c2","x":951.1,"y":600},{"i":"c2","x":955.5,"y":649.3},{"i":"c2","x":951.1,"y":698.6},{"i":"c2","x":937.9,"y":746.4},{"i":"c2","x":916.4,"y":791.3},{"i":"c2","x":887.2,"y":831.9},{"i":"c2","x":851.2,"y":866.9},{"i":"c2","x":809.5,"y":895.3},{"i":"c2","x":763.4,"y":916.2},{"i":"c2","x":714.2,"y":926.5},{"i":"c2","x":678,"y":927.9},{"i":"c2","x":678,"y":1270.5},
{"i":"c3","x":2039.3,"y":1273.5},{"i":"c3","x":2048,"y":930.4},{"i":"c3","x":2021.2,"y":929},{"i":"c3","x":1971.5,"y":920.3},{"i":"c3","x":1924.8,"y":899.2},{"i":"c3","x":1882.7,"y":870.6},{"i":"c3","x":1846.3,"y":835.3},{"i":"c3","x":1816.8,"y":794.5},{"i":"c3","x":1795,"y":749.3},{"i":"c3","x":1781.7,"y":701.2},{"i":"c3","x":1777.2,"y":651.5},{"i":"c3","x":1781.7,"y":601.8},{"i":"c3","x":1795,"y":553.7},{"i":"c3","x":1816.8,"y":508.5},{"i":"c3","x":1846.3,"y":467.7},{"i":"c3","x":1882.7,"y":432.4},{"i":"c3","x":1924.8,"y":403.8},{"i":"c3","x":1971.5,"y":382.7},{"i":"c3","x":2021.2,"y":374.5},{"i":"c3","x":2062.7,"y":372.5},{"i":"c3","x":2063.3,"y":317},{"i":"c3","x":2064.3,"y":283},{"i":"c3","x":2065.7,"y":243},{"i":"c3","x":2067.7,"y":170},{"i":"c3","x":2070,"y":120},{"i":"c3","x":2072,"y":85},{"i":"c3","x":2072,"y":30.7},{"i":"c3","x":2072,"y":85},{"i":"c3","x":2074.7,"y":120},{"i":"c3","x":2076.7,"y":170},{"i":"c3","x":2078.3,"y":243},{"i":"c3","x":2080,"y":283},{"i":"c3","x":2080.3,"y":317},{"i":"c3","x":2081.3,"y":372.5},{"i":"c3","x":2123.8,"y":374.5},{"i":"c3","x":2173.5,"y":382.7},{"i":"c3","x":2220.2,"y":403.8},{"i":"c3","x":2262.3,"y":432.4},{"i":"c3","x":2298.7,"y":467.7},{"i":"c3","x":2328.2,"y":508.5},{"i":"c3","x":2350,"y":553.7},{"i":"c3","x":2363.3,"y":601.8},{"i":"c3","x":2367.8,"y":651.5},{"i":"c3","x":2363.3,"y":701.2},{"i":"c3","x":2350,"y":749.3},{"i":"c3","x":2328.2,"y":794.5},{"i":"c3","x":2298.7,"y":835.3},{"i":"c3","x":2262.3,"y":870.6},{"i":"c3","x":2220.2,"y":899.2},{"i":"c3","x":2173.5,"y":920.3},{"i":"c3","x":2123.8,"y":929},{"i":"c3","x":2096,"y":931.3},{"i":"c3","x":2105.5,"y":1273.5}
],
"shafts":[
{"i":"g1","c":"green","x":686,"y":649.3},{"i":"g1","c":"green","x":780,"y":649.3},
{"i":"r1","c":"red","x":663.3,"y":672},{"i":"r1","c":"red","x":663.3,"y":766},
{"i":"g2","c":"green","x":2094,"y":652.5},{"i":"g2","c":"green","x":2188,"y":652.5},
{"i":"r2","c":"red","x":2071.8,"y":675},{"i":"r2","c":"red","x":2071.8,"y":769},
{"i":"z1","c":"blue","x":664,"y":626.5},{"i":"z1","c":"blue","x":681,"y":626.5},{"i":"z1","c":"blue","x":676,"y":632},
{"i":"z2","c":"blue","x":2072,"y":629.5},{"i":"z2","c":"blue","x":2089,"y":629.5},{"i":"z2","c":"blue","x":2084,"y":635}
],
"heads":[
{"i":"h1","b":"axisG","x":779,"y":640},{"i":"h1","b":"axisG","x":809,"y":649.3},{"i":"h1","b":"axisG","x":779,"y":658.7},
{"i":"h2","b":"axisR","x":653.5,"y":765},{"i":"h2","b":"axisR","x":663.3,"y":796},{"i":"h2","b":"axisR","x":673,"y":765},
{"i":"h3","b":"axisD","x":663.3,"y":765},{"i":"h3","b":"axisD","x":663.3,"y":796},{"i":"h3","b":"axisD","x":673,"y":765},
{"i":"h4","b":"axisG","x":2188,"y":643},{"i":"h4","b":"axisG","x":2217,"y":652.5},{"i":"h4","b":"axisG","x":2188,"y":662},
{"i":"h5","b":"axisR","x":2062,"y":768},{"i":"h5","b":"axisR","x":2071.8,"y":798},{"i":"h5","b":"axisR","x":2081.5,"y":768},
{"i":"h6","b":"axisD","x":2071.8,"y":768},{"i":"h6","b":"axisD","x":2071.8,"y":798},{"i":"h6","b":"axisD","x":2081.5,"y":768}
],
"legendBars":[{"b":"450","lo":450,"hi":500},{"b":"400","lo":400,"hi":450},{"b":"350","lo":350,"hi":400},{"b":"300","lo":300,"hi":350},{"b":"250","lo":250,"hi":300},{"b":"200","lo":200,"hi":250},{"b":"150","lo":150,"hi":200},{"b":"100","lo":100,"hi":150},{"b":"50","lo":50,"hi":100},{"b":"0","lo":0,"hi":50}],
"legendTicks":[{"v":500},{"v":450},{"v":400},{"v":350},{"v":300},{"v":250},{"v":200},{"v":150},{"v":100},{"v":50},{"v":0}]
},
"layer":[
{"encoding":{"x":{"field":"x","type":"quantitative","scale":{"domain":[0,3160],"nice":false,"zero":false},"axis":null},"y":{"field":"y","type":"quantitative","scale":{"domain":[1419,0],"nice":false,"zero":false},"axis":null}},
"layer":[
{"data":{"name":"arcs"},"transform":[{"filter":"!datum.c"}],"mark":{"type":"line","fill":"#38ff00","strokeWidth":0},"encoding":{"detail":{"field":"i"},"order":{"value":null}}},
{"data":{"name":"regions"},"mark":{"type":"line","strokeWidth":0,"interpolate":"linear"},"encoding":{"detail":{"field":"i"},"order":{"value":null},"fill":{"field":"b","type":"nominal","legend":null,"scale":{"domain":["450","400","350","300","250","200","150","100","50","0","void","axisG","axisR","axisD"],"range":["#ff0000","#ff7300","#ffe000","#a8ff00","#38ff00","#00ff33","#00ffa6","#00e0ff","#0070ff","#0000ff","#ffffff","#007000","#ff0000","#8a0000"]}}}},
{"data":{"name":"orangeDots"},"mark":{"type":"circle","size":230,"fill":"#ff7300","strokeWidth":0,"opacity":1}},
{"data":{"name":"yellowDots"},"mark":{"type":"circle","size":110,"fill":"#ffe000","strokeWidth":0,"opacity":1}},
{"data":{"name":"yellowSmall"},"mark":{"type":"circle","size":50,"fill":"#ffe000","strokeWidth":0,"opacity":1}},
{"data":{"name":"limeDots"},"mark":{"type":"circle","size":36,"fill":"#a8ff00","strokeWidth":0,"opacity":1}},
{"data":{"name":"greenDots"},"mark":{"type":"circle","size":14,"fill":"#00e030","strokeWidth":0,"opacity":1}},
{"data":{"name":"arcs"},"mark":{"type":"line","fill":"#ffffff","strokeWidth":0},"encoding":{"detail":{"field":"i"},"order":{"value":null}}},
{"data":{"name":"arcs"},"transform":[{"filter":"!datum.c"}],"mark":{"type":"line","stroke":"#4a6650","strokeWidth":1.7},"encoding":{"detail":{"field":"i"},"order":{"value":null}}},
{"data":{"name":"cavities"},"mark":{"type":"line","fill":"#ffffff","stroke":"#4a6650","strokeWidth":1.7},"encoding":{"detail":{"field":"i"},"order":{"value":null}}},
{"data":{"name":"shafts"},"mark":{"type":"line","strokeWidth":3.2},"encoding":{"detail":{"field":"i"},"order":{"value":null},"stroke":{"field":"c","type":"nominal","legend":null,"scale":{"domain":["green","red","blue"],"range":["#008a00","#ff0000","#3b66d9"]}}}},
{"data":{"name":"heads"},"mark":{"type":"line","strokeWidth":0},"encoding":{"detail":{"field":"i"},"order":{"value":null},"fill":{"field":"b","type":"nominal","legend":null}}},
{"data":{"values":[{"x":663.3,"y":649.3},{"x":2071.8,"y":652.5}]},"mark":{"type":"point","shape":"circle","filled":true,"size":2025,"fill":"#a4c7a4","stroke":"#4a6650","strokeWidth":1.7,"opacity":1}},
{"data":{"values":[{"x":853,"y":638,"t":"Y"},{"x":2262.5,"y":640,"t":"Y"}]},"mark":{"type":"text","font":"Liberation Sans","fontSize":33,"baseline":"middle","align":"center","fill":"#008a00"},"encoding":{"text":{"field":"t"}}},
{"data":{"values":[{"x":672,"y":818,"t":"X"},{"x":2081.7,"y":822,"t":"X"}]},"mark":{"type":"text","font":"Liberation Sans","fontSize":33,"baseline":"middle","align":"center","fill":"#ff0000"},"encoding":{"text":{"field":"t"}}},
{"data":{"values":[{"x":2855,"y":247},{"x":3128,"y":247}]},"mark":{"type":"line","stroke":"#333333","strokeWidth":1.2}},
{"data":{"values":[{"x":2855,"y":1146},{"x":3128,"y":1146}]},"mark":{"type":"line","stroke":"#333333","strokeWidth":1.2}},
{"data":{"values":[{"x":2868,"y":293,"t":"B [mTesla]"}]},"mark":{"type":"text","font":"Liberation Sans","fontSize":43.5,"fontWeight":"bold","align":"left","baseline":"middle","fill":"#000000"},"encoding":{"text":{"field":"t"}}},
{"data":{"values":[{"x":2868,"y":358,"t":"Max: 500.000"},{"x":2868,"y":1119,"t":"Min:"},{"x":2978,"y":1119,"t":"0.000"}]},"mark":{"type":"text","font":"Liberation Sans","fontSize":40,"align":"left","baseline":"middle","fill":"#000000"},"encoding":{"text":{"field":"t"}}},
{"data":{"values":[{"x":628,"y":1387,"t":"("},{"x":696,"y":1387,"t":")"},{"x":2033,"y":1387,"t":"("},{"x":2108,"y":1387,"t":")"}]},"mark":{"type":"text","font":"Liberation Serif","fontSize":74,"align":"center","baseline":"alphabetic","fill":"#000000"},"encoding":{"text":{"field":"t"}}},
{"data":{"values":[{"x":663,"y":1387,"t":"a"},{"x":2073,"y":1387,"t":"b"}]},"mark":{"type":"text","font":"Liberation Serif","fontSize":74,"fontWeight":"bold","align":"center","baseline":"alphabetic","fill":"#000000"},"encoding":{"text":{"field":"t"}}}
]},
{"layer":[
{"data":{"name":"legendBars"},"mark":{"type":"rect"},"encoding":{"x":{"datum":2868,"type":"quantitative","scale":{"domain":[0,3160],"nice":false,"zero":false},"axis":null},"x2":{"datum":2948},"y":{"field":"lo","type":"quantitative","scale":{"domain":[-279.6,825.5],"nice":false,"zero":false},"axis":null},"y2":{"field":"hi"},"fill":{"field":"b","type":"nominal","legend":null}}},
{"data":{"name":"legendTicks"},"mark":{"type":"text","font":"Liberation Sans","fontSize":40,"align":"center","baseline":"middle","dy":-2,"fill":"#000000"},"encoding":{"x":{"datum":3034,"type":"quantitative","scale":{"domain":[0,3160],"nice":false,"zero":false},"axis":null},"y":{"field":"v","type":"quantitative","scale":{"domain":[-279.6,825.5],"nice":false,"zero":false},"axis":null},"text":{"field":"v","type":"quantitative"}}}
]}
],
"resolve":{"scale":{"y":"independent"}}}
